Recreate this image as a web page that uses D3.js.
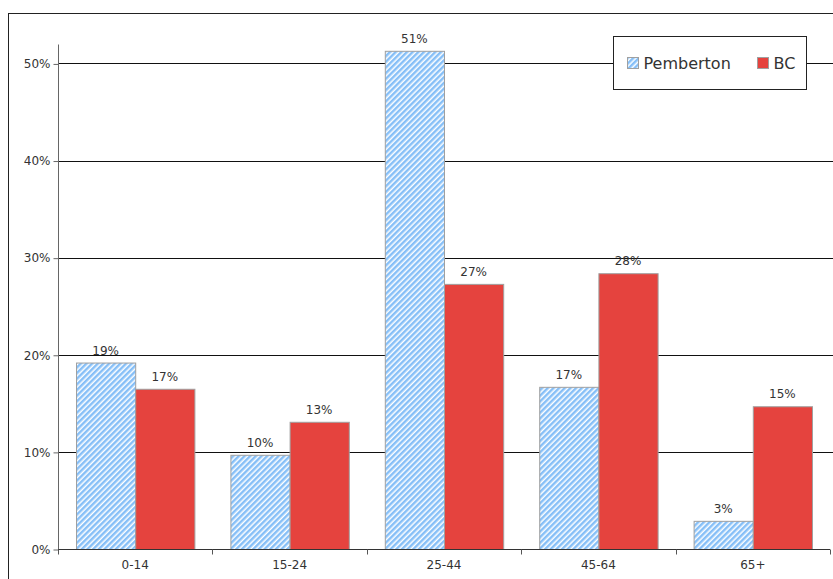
<!DOCTYPE html>
<html>
<head>
<meta charset="utf-8">
<script src="https://cdn.jsdelivr.net/npm/d3@7/dist/d3.min.js"></script>
<style>
  html, body { margin: 0; padding: 0; background: #fff; }
  svg { display: block; }
  text { font-family: "DejaVu Sans", sans-serif; fill: #333; }
</style>
</head>
<body>
<svg id="chart" width="833" height="579"></svg>
<script>
// Age distribution, share of population by age group
const categories = ["0-14", "15-24", "25-44", "45-64", "65+"];
const pemberton = [0.192, 0.097, 0.513, 0.167, 0.029];
const bc = [0.165, 0.131, 0.273, 0.284, 0.147];
const seriesNames = ["Pemberton", "BC"];
const yTicks = [0, 0.1, 0.2, 0.3, 0.4, 0.5];

const svg = d3.select("#chart");
const W = 833, H = 579;

const plot = { left: 58, right: 830, top: 44, bottom: 549 };

// hatched fill for Pemberton
const defs = svg.append("defs");
const pat = defs.append("pattern")
  .attr("id", "hatch")
  .attr("patternUnits", "userSpaceOnUse")
  .attr("width", 4).attr("height", 4)
  .attr("patternTransform", "rotate(45)");
pat.append("rect").attr("width", 4).attr("height", 4).attr("fill", "#ffffff");
pat.append("rect").attr("x", 0).attr("width", 2.5).attr("height", 4).attr("fill", "#86bff7");

// outer chart border
svg.append("rect")
  .attr("x", 8.5).attr("y", 13.5)
  .attr("width", 900).attr("height", 700)
  .attr("fill", "none").attr("stroke", "#222").attr("stroke-width", 1);

const x = d3.scaleBand().domain(categories).range([plot.left, plot.right]).paddingInner(0).paddingOuter(0);
const y = d3.scaleLinear().domain([0, 0.52]).range([plot.bottom, plot.top]);

const barPad = 18;
const x1 = d3.scaleBand().domain(seriesNames)
  .range([barPad, x.bandwidth() - barPad]).padding(0);

// gridlines
svg.append("g").selectAll("line")
  .data(yTicks.filter(d => d > 0))
  .join("line")
  .attr("x1", plot.left).attr("x2", W)
  .attr("y1", d => Math.round(y(d)) + 0.5).attr("y2", d => Math.round(y(d)) + 0.5)
  .attr("stroke", "#111").attr("stroke-width", 1);

// y axis
const yAxis = d3.axisLeft(y).tickValues(yTicks).tickFormat(d3.format(".0%")).tickSize(5).tickPadding(3);
const gy = svg.append("g").attr("transform", `translate(${plot.left + 0.5},0.5)`).call(yAxis);
gy.select(".domain").attr("stroke", "#666").attr("d", `M0,${plot.top}V${plot.bottom}`);
gy.selectAll(".tick line").attr("stroke", "#666");
gy.selectAll(".tick text").style("font-size", "12px").attr("fill", "#333");

// bars
const rows = categories.map((c, i) => ({ cat: c, vals: [
  { s: "Pemberton", v: pemberton[i] },
  { s: "BC", v: bc[i] }
]}));

const groups = svg.append("g").selectAll("g")
  .data(rows).join("g")
  .attr("transform", d => `translate(${x(d.cat)},0)`);

groups.selectAll("rect")
  .data(d => d.vals).join("rect")
  .attr("x", d => x1(d.s) + 0.5)
  .attr("y", d => y(d.v) + 0.5)
  .attr("width", x1.bandwidth())
  .attr("height", d => y(0) - y(d.v))
  .attr("fill", d => d.s === "Pemberton" ? "url(#hatch)" : "#e5433e")
  .attr("stroke", "#a0a0a0").attr("stroke-width", 1);

groups.selectAll("text")
  .data(d => d.vals).join("text")
  .attr("x", d => x1(d.s) + x1.bandwidth() / 2)
  .attr("y", d => y(d.v) - 8)
  .attr("text-anchor", "middle")
  .style("font-size", "12px")
  .text(d => d3.format(".0%")(d.v));

// x axis
const xAxis = d3.axisBottom(x).tickSize(0).tickPadding(11);
const gx = svg.append("g").attr("transform", `translate(0,${plot.bottom + 0.5})`).call(xAxis);
gx.select(".domain").attr("stroke", "#333").attr("d", `M${plot.left},0H${plot.right}`);
gx.selectAll(".tick text").style("font-size", "12px").attr("fill", "#333");
// category separators
gx.append("g").selectAll("line")
  .data(d3.range(categories.length + 1))
  .join("line")
  .attr("x1", i => Math.round(plot.left + i * x.bandwidth()) + 0.5)
  .attr("x2", i => Math.round(plot.left + i * x.bandwidth()) + 0.5)
  .attr("y1", 0).attr("y2", 5)
  .attr("stroke", "#555");

// legend
const lg = svg.append("g").attr("transform", "translate(613.5,36.5)");
lg.append("rect").attr("width", 193).attr("height", 53)
  .attr("fill", "#fff").attr("stroke", "#222");
const items = [
  { s: "Pemberton", fill: "url(#hatch)", x: 14 },
  { s: "BC", fill: "#e5433e", x: 144 }
];
items.forEach(it => {
  lg.append("rect").attr("x", it.x).attr("y", 21).attr("width", 11).attr("height", 11)
    .attr("fill", it.fill).attr("stroke", "#a0a0a0");
  lg.append("text").attr("x", it.x + 16).attr("y", 32)
    .style("font-size", "16px").text(it.s);
});
</script>
</body>
</html>
